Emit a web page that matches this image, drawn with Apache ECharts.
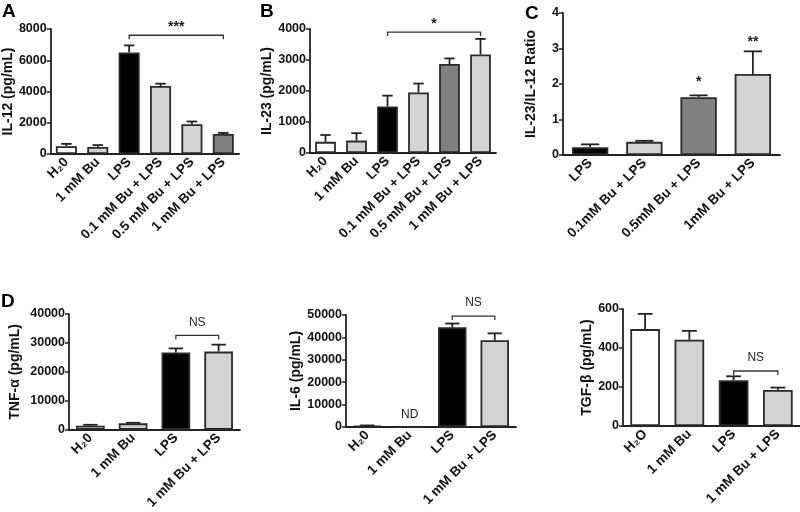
<!DOCTYPE html>
<html><head><meta charset="utf-8">
<script src="https://cdn.jsdelivr.net/npm/echarts@6/dist/echarts.min.js"></script>
<style>html,body{margin:0;padding:0;background:#fff}#c{width:800px;height:512px}</style>
</head><body><div id="c"></div>
<script>
// ---- Data ----
const catsAB = ['H₂0', '1 mM Bu', 'LPS', '0.1 mM Bu + LPS', '0.5 mM Bu + LPS', '1 mM Bu + LPS'];
const il12 = [500, 450, 6500, 4350, 1900, 1280];
const il12Err = [650, 570, 6950, 4500, 2080, 1350];
const il23 = [360, 400, 1500, 1950, 2870, 3180];
const il23Err = [580, 640, 1850, 2240, 3050, 3680];
const catsC = ['LPS', '0.1mM Bu + LPS', '0.5mM Bu + LPS', '1mM Bu + LPS'];
const ratio = [0.22, 0.37, 1.63, 2.28];
const ratioErr = [0.30, 0.40, 1.68, 2.92];
const catsD = ['H₂0', '1 mM Bu', 'LPS', '1 mM Bu + LPS'];
const catsD3 = ['H₂O', '1 mM Bu', 'LPS', '1 mM Bu + LPS'];
const tnf = [1400, 2200, 26700, 27000];
const tnfErr = [1700, 2400, 28100, 29400];
const il6 = [500, 0, 44500, 38700];
const il6Err = [700, 0, 46200, 41800];
const tgf = [497, 442, 235, 185];
const tgfErr = [575, 488, 255, 197];
// significance brackets: [fromIndex, toIndex, level, text]
const brA = [[2, 5, 7600, '***']];
const brB = [[2, 5, 3900, '*']];
const brD1 = [[2, 3, 32600, 'NS']];
const brD2 = [[2, 3, 49500, 'NS']];
const brD3 = [[2, 3, 282, 'NS']];
// text marks: [index, level, text]
const txtC = [[2, 2.06, '*'], [3, 3.18, '**']];
const txtD2 = [[1, 5300, 'ND']];
// y axis settings
const yMax = [8000, 4000, 4, 40000, 50000, 600];
const yStep = [2000, 1000, 1, 10000, 10000, 200];

// ---- Styles ----
const W = '#ffffff', L = '#d3d3d3', K = '#000000', G = '#808080';
const colA = [W, L, K, L, L, G];
const colB = [W, L, K, L, G, L];
const colC = [K, L, G, L];
const colD = [W, L, K, L];
const FONT = '"Liberation Sans", Arial, sans-serif';

const grids = [
  {left: 50, top: 29, width: 189, height: 125},
  {left: 310, top: 29, width: 186, height: 124},
  {left: 563, top: 13, width: 217, height: 142},
  {left: 69, top: 314, width: 171, height: 119},
  {left: 346, top: 315, width: 170, height: 112},
  {left: 623, top: 309, width: 177, height: 117}
];
const yNames = ['IL-12 (pg/mL)', 'IL-23 (pg/mL)', 'IL-23/IL-12 Ratio', 'TNF-α (pg/mL)', 'IL-6 (pg/mL)', 'TGF-β (pg/mL)'];
const yGaps = [35, 30, 25, 47, 41, 28];
const cats = [catsAB, catsAB, catsC, catsD, catsD, catsD3];
const vals = [il12, il23, ratio, tnf, il6, tgf];
const errs = [il12Err, il23Err, ratioErr, tnfErr, il6Err, tgfErr];
const cols = [colA, colB, colC, colD, colD, colD];
const brs = [brA, brB, null, brD1, brD2, brD3];
const txts = [null, null, txtC, null, txtD2, null];
const BW = 0.67;

const axisLine = {lineStyle: {color: '#222', width: 1.8}};
const xAxes = [], yAxes = [], series = [];
for (let i = 0; i < 6; i++) {
  xAxes.push({
    type: 'category', gridIndex: i, data: cats[i], boundaryGap: true,
    axisLine: axisLine,
    axisTick: {alignWithLabel: true, length: 5, lineStyle: {color: '#222', width: 1.5}},
    axisLabel: {rotate: 45, interval: 0, margin: 6, color: '#111', fontFamily: FONT, fontWeight: 'bold', fontSize: 13.5}
  });
  yAxes.push({
    type: 'value', gridIndex: i, min: 0, max: yMax[i], interval: yStep[i],
    name: yNames[i], nameLocation: 'middle', nameGap: yGaps[i],
    nameTextStyle: {color: '#111', fontFamily: FONT, fontWeight: 'bold', fontSize: 14},
    axisLine: {show: true, lineStyle: {color: '#222', width: 1.8}},
    axisTick: {show: true, length: 4, lineStyle: {color: '#222', width: 1.5}},
    axisLabel: {color: '#111', fontFamily: FONT, fontWeight: 'bold', fontSize: 12.5, margin: 4, formatter: v => String(v)},
    splitLine: {show: false}
  });
  const c = cols[i];
  series.push({
    type: 'bar', xAxisIndex: i, yAxisIndex: i, barWidth: (BW * 100) + '%',
    data: vals[i].map((v, j) => ({value: v, itemStyle: {color: c[j], borderColor: '#2a2a2a', borderWidth: 1.8}})),
    z: 2, animation: false
  });
  const ev = errs[i];
  series.push({
    type: 'custom', xAxisIndex: i, yAxisIndex: i, z: 3, animation: false,
    data: vals[i].map((v, j) => [j, v, ev[j]]),
    renderItem: function (params, api) {
      const x = api.value(0), v = api.value(1), u = api.value(2);
      if (u <= v) return null;
      const p0 = api.coord([x, v]), p1 = api.coord([x, u]);
      const cw = api.size([1, 0])[0] * BW * 0.5;
      return {type: 'group', children: [
        {type: 'line', shape: {x1: p0[0], y1: p0[1], x2: p1[0], y2: p1[1]}, style: {stroke: '#222', lineWidth: 1.8}},
        {type: 'line', shape: {x1: p1[0] - cw / 2, y1: p1[1], x2: p1[0] + cw / 2, y2: p1[1]}, style: {stroke: '#222', lineWidth: 1.8}}
      ]};
    }
  });
  if (brs[i]) {
    const br = brs[i];
    series.push({
      type: 'custom', xAxisIndex: i, yAxisIndex: i, z: 4, animation: false,
      data: br.map(b => [b[0], b[1], b[2]]),
      renderItem: function (params, api) {
        const a = api.coord([api.value(0), api.value(2)]);
        const b = api.coord([api.value(1), api.value(2)]);
        const t = br[params.dataIndex][3];
        const isStar = t.indexOf('*') >= 0;
        return {type: 'group', children: [
          {type: 'polyline', shape: {points: [[a[0], a[1] + 4], [a[0], a[1]], [b[0], b[1]], [b[0], b[1] + 4]]}, style: {stroke: '#333', lineWidth: 1.3, fill: null}},
          {type: 'text', x: (a[0] + b[0]) / 2, y: a[1] - (isStar ? 1 : 7), style: {text: t, textAlign: 'center', textVerticalAlign: 'bottom', fill: '#222', font: (isStar ? 'bold 14px ' : '12px ') + FONT}}
        ]};
      }
    });
  }
  if (txts[i]) {
    const tx = txts[i];
    series.push({
      type: 'custom', xAxisIndex: i, yAxisIndex: i, z: 4, animation: false,
      data: tx.map(t => [t[0], t[1]]),
      renderItem: function (params, api) {
        const p = api.coord([api.value(0), api.value(1)]);
        const t = tx[params.dataIndex][2];
        const isStar = t.indexOf('*') >= 0;
        return {type: 'text', x: p[0], y: p[1], style: {text: t, textAlign: 'center', textVerticalAlign: 'middle', fill: '#222', font: (isStar ? 'bold 14px ' : '12px ') + FONT}};
      }
    });
  }
}

const letters = [['A', 2, 2], ['B', 260, 2], ['C', 525, 4], ['D', 1, 292]];
const chart = echarts.init(document.getElementById('c'), null, {renderer: 'canvas'});
chart.setOption({
  backgroundColor: '#fff',
  animation: false,
  grid: grids,
  xAxis: xAxes,
  yAxis: yAxes,
  series: series,
  graphic: letters.map(l => ({type: 'text', left: l[1], top: l[2], style: {text: l[0], fill: '#000', font: 'bold 19px ' + FONT}}))
});
</script></body></html>
